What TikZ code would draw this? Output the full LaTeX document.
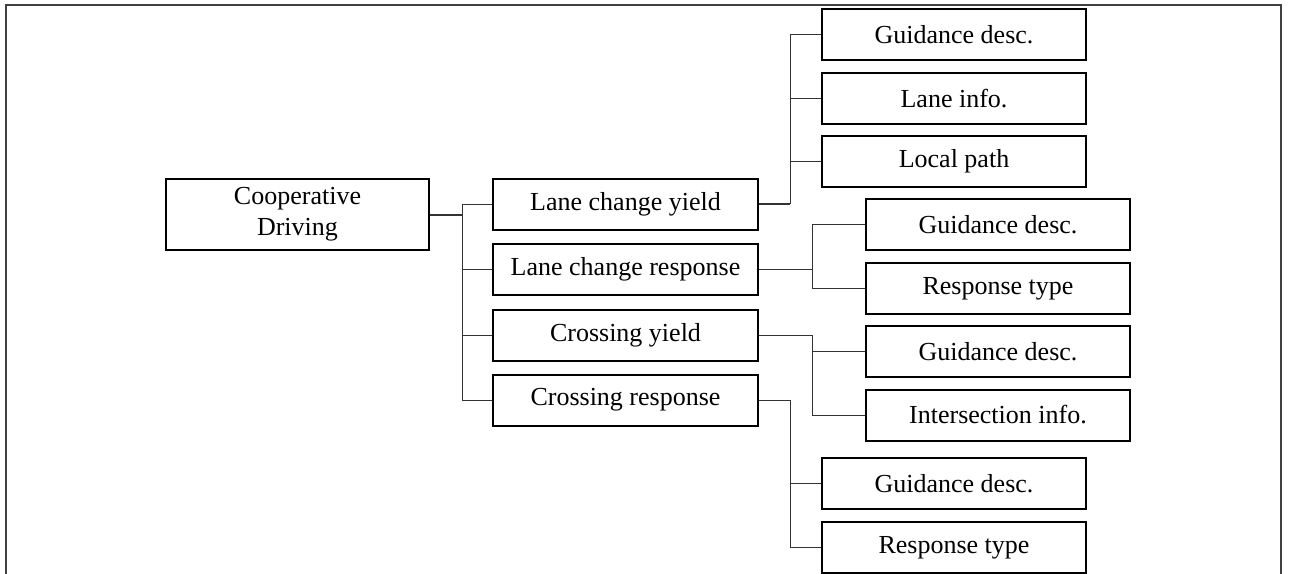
\documentclass[tikz,border=0pt]{standalone}
\usepackage{fontspec}
\setmainfont{Liberation Serif}
\usepackage{tikz}

\tikzset{
  box/.style={draw, line width=1.5pt, minimum height=38.25pt, inner sep=0pt, align=center, font=\fontsize{19.5}{23}\selectfont},
  link/.style={line width=0.75pt, draw=black!80}
}

\begin{document}
\begin{tikzpicture}[x=0.75pt,y=0.75pt,yscale=-1,xscale=1]

            \useasboundingbox (0,0) rectangle (1291,574);

            % Frame
            \draw [line width=1.5pt, draw=black!75]  (6,574) -- (6,5) -- (1281,5) -- (1281,574);

            % Root
            \node [box, minimum width=197.25pt, minimum height=53.25pt] (root) at (297.5,214.5) {Cooperative\\Driving};

            % First level
            \node [box, minimum width=198.75pt] (lcy) at (625.5,204)   {Lane change yield};
            \node [box, minimum width=198.75pt] (lcr) at (625.5,269.5) {Lane change response};
            \node [box, minimum width=198.75pt] (cy)  at (625.5,335)   {Crossing yield};
            \node [box, minimum width=198.75pt] (cr)  at (625.5,400)   {Crossing response};

            % Second level
            \node [box, minimum width=198pt] (lcygd) at (954,35)    {Guidance desc.};
            \node [box, minimum width=198pt] (lcyli) at (954,98.5)  {Lane info.};
            \node [box, minimum width=198pt] (lcylp) at (954,161.5) {Local path};
            \node [box, minimum width=198pt] (lcrgd) at (998,224.5) {Guidance desc.};
            \node [box, minimum width=198pt] (lcrrt) at (998,288.5) {Response type};
            \node [box, minimum width=198pt] (cygd)  at (998,351.5) {Guidance desc.};
            \node [box, minimum width=198pt] (cyii)  at (998,415)   {Intersection info.};
            \node [box, minimum width=198pt] (crgd)  at (954,483.5) {Guidance desc.};
            \node [box, minimum width=198pt] (crrt)  at (954,547.5) {Response type};

            % Branch points
            \coordinate (b0) at (462,214.5);
            \coordinate (b1) at (790,204);
            \coordinate (b2) at (812,269.5);
            \coordinate (b3) at (812,335);
            \coordinate (b4) at (790,400);

            % Connectors
            \draw [link, line width=1.5pt] (root.east) -- (b0);
            \foreach \n in {lcy,lcr,cy,cr} \draw [link] (b0) |- (\n.west);
            \draw [link, line width=1.5pt] (lcy.east) -- (b1);
            \foreach \n in {lcygd,lcyli,lcylp} \draw [link] (b1) |- (\n.west);
            \draw [link] (lcr.east) -- (b2);
            \foreach \n in {lcrgd,lcrrt} \draw [link] (b2) |- (\n.west);
            \draw [link] (cy.east) -- (b3);
            \foreach \n in {cygd,cyii} \draw [link] (b3) |- (\n.west);
            \draw [link] (cr.east) -- (b4);
            \foreach \n in {crgd,crrt} \draw [link] (b4) |- (\n.west);

\end{tikzpicture}
\end{document}
